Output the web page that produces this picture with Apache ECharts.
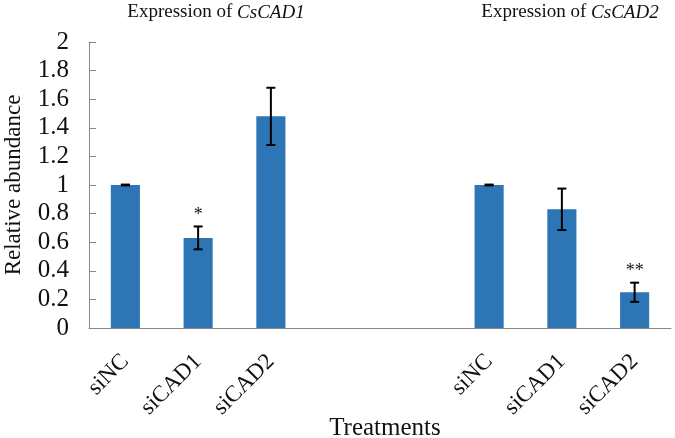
<!DOCTYPE html>
<html><head><meta charset="utf-8">
<script src="https://cdn.jsdelivr.net/npm/echarts@6/dist/echarts.min.js"></script>
<style>html,body{margin:0;padding:0;background:#fff}#c{width:675px;height:438px}</style>
</head><body><div id="c"></div>
<script>
var categories = ['siNC', 'siCAD1', 'siCAD2', '', '', 'siNC', 'siCAD1', 'siCAD2'];
var values = [1.0, 0.63, 1.48, null, null, 1.0, 0.83, 0.25];
var errors = [0.003, 0.08, 0.2, null, null, 0.003, 0.145, 0.067];
var marks = ['', '*', '', '', '', '', '', '**'];
var yTicks = [0, 0.2, 0.4, 0.6, 0.8, 1, 1.2, 1.4, 1.6, 1.8, 2];
var xAxisTitle = 'Treatments';

var font = 'Liberation Serif, Times New Roman, serif';
var chart = echarts.init(document.getElementById('c'));
var errData = [];
var markData = [];
for (var i = 0; i < categories.length; i++) {
  if (values[i] != null) {
    errData.push([i, values[i] - errors[i], values[i] + errors[i]]);
    if (marks[i]) markData.push([i, values[i] + errors[i], marks[i]]);
  }
}
chart.setOption({
  animation: false,
  title: [
    {text: 'Expression of {i|CsCAD1}', left: 211, top: -2, textAlign: 'center',
     textStyle: {fontFamily: font, fontSize: 19, fontWeight: 'normal', color: '#111',
       rich: {i: {fontFamily: font, fontSize: 19, fontStyle: 'italic', color: '#111'}}}},
    {text: 'Expression of {i|CsCAD2}', left: 565, top: -2, textAlign: 'center',
     textStyle: {fontFamily: font, fontSize: 19, fontWeight: 'normal', color: '#111',
       rich: {i: {fontFamily: font, fontSize: 19, fontStyle: 'italic', color: '#111'}}}},
    {text: xAxisTitle, left: 380, top: 411, textAlign: 'center',
     textStyle: {fontFamily: font, fontSize: 25, fontWeight: 'normal', color: '#111'}}
  ],
  grid: {left: 89, right: 4, top: 42, bottom: 110, containLabel: false, outerBoundsMode: 'none'},
  xAxis: {
    type: 'category', data: categories,
    axisLine: {lineStyle: {color: '#888', width: 1}},
    axisTick: {inside: true, length: 8, lineStyle: {color: '#888'}},
    axisLabel: {rotate: 45, fontFamily: font, fontSize: 23, color: '#111', margin: 30, interval: 0}
  },
  yAxis: {
    type: 'value', min: 0, max: 2, interval: 0.2,
    name: 'Relative abundance', nameLocation: 'middle', nameGap: 64,
    nameTextStyle: {fontFamily: font, fontSize: 23, color: '#111'},
    splitLine: {show: false},
    axisLine: {show: true, lineStyle: {color: '#888', width: 1}},
    axisTick: {show: true, inside: true, length: 7, lineStyle: {color: '#888'}},
    axisLabel: {fontFamily: font, fontSize: 25, color: '#111', margin: 20,
      formatter: function (v) { return String(Math.round(v * 10) / 10); }}
  },
  series: [
    {type: 'bar', data: values, barWidth: '40%', itemStyle: {color: '#2E75B6'}},
    {type: 'custom', data: errData, z: 5,
     renderItem: function (params, api) {
       var x = api.value(0);
       var lo = api.coord([x, api.value(1)]);
       var hi = api.coord([x, api.value(2)]);
       var w = 4.5;
       var st = {stroke: '#000', lineWidth: 2};
       return {type: 'group', children: [
         {type: 'line', shape: {x1: lo[0], y1: lo[1], x2: hi[0], y2: hi[1]}, style: st},
         {type: 'line', shape: {x1: lo[0] - w, y1: lo[1], x2: lo[0] + w, y2: lo[1]}, style: st},
         {type: 'line', shape: {x1: hi[0] - w, y1: hi[1], x2: hi[0] + w, y2: hi[1]}, style: st}
       ]};
     }},
    {type: 'custom', data: markData, z: 6,
     renderItem: function (params, api) {
       var p = api.coord([api.value(0), api.value(1)]);
       return {type: 'text', x: p[0], y: p[1] - 2,
         style: {text: api.value(2), fontFamily: font, fontSize: 18, fill: '#111',
           align: 'center', verticalAlign: 'bottom'}};
     }}
  ]
});
</script></body></html>
